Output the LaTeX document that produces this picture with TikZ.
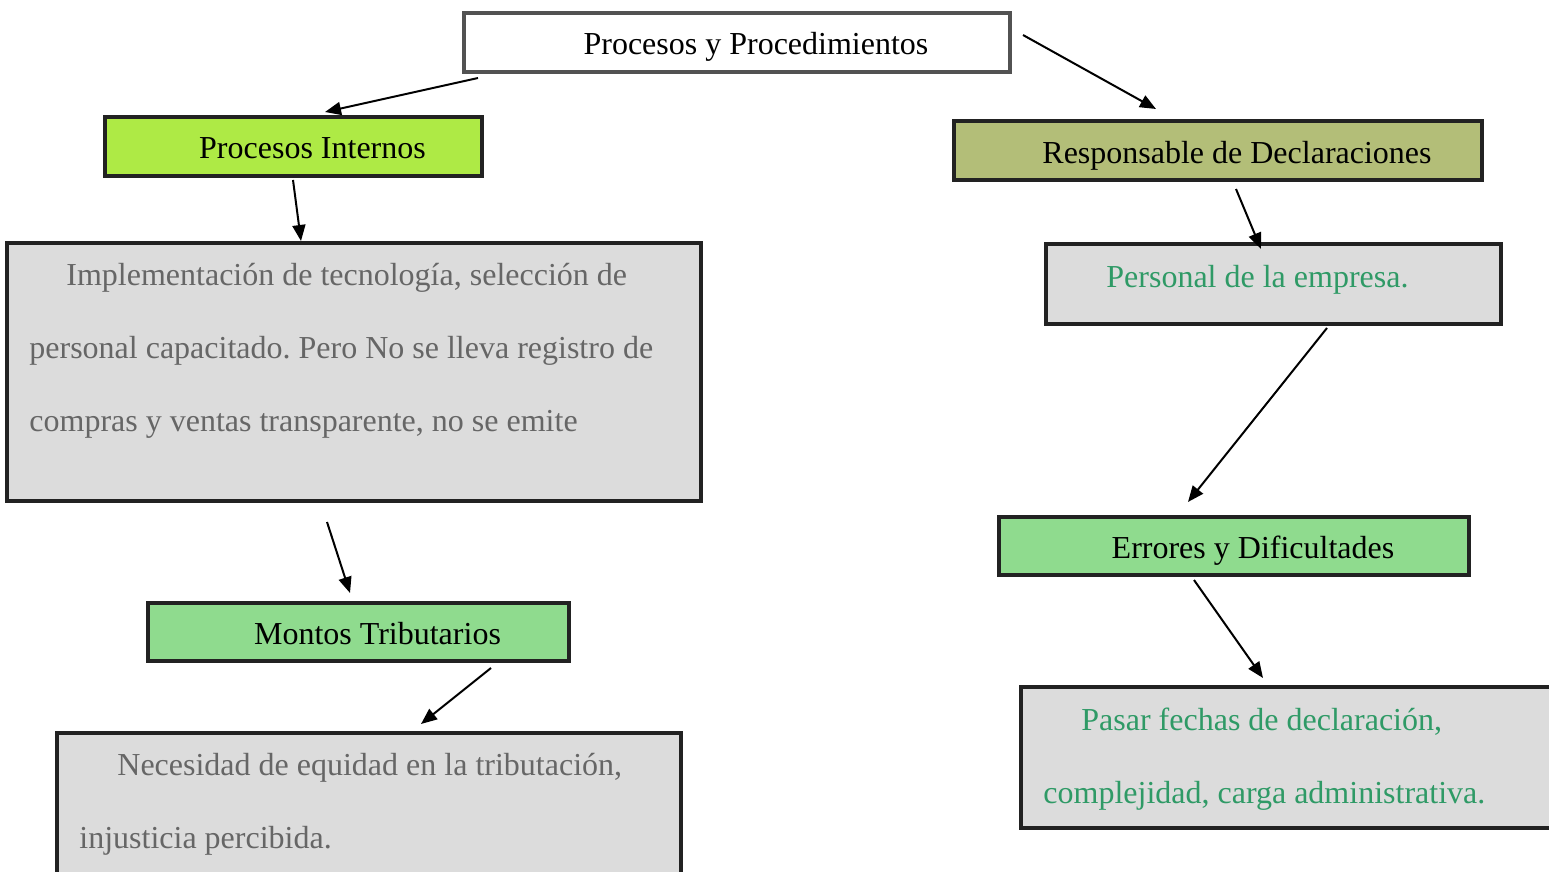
\documentclass[tikz,border=0pt]{standalone}
\usepackage{fontspec}
\setmainfont{Liberation Serif}
\usetikzlibrary{arrows.meta}
\frenchspacing

\definecolor{lima}{HTML}{AEEA45}
\definecolor{oliva}{HTML}{B3BE78}
\definecolor{verde}{HTML}{8FDB8E}
\definecolor{grisfondo}{HTML}{DCDCDC}
\definecolor{gristexto}{HTML}{666666}
\definecolor{verdetexto}{HTML}{2F9A66}
\definecolor{borde}{HTML}{222222}

\begin{document}
\begin{tikzpicture}[x=0.5pt, y=-0.5pt,
  every node/.style={font=\fontsize{16}{36.5}\selectfont, inner sep=0pt},
  caja/.style={draw=borde, line width=2pt, minimum height=29.5pt},
  titulo/.style={caja, text height=16pt, text depth=3.5pt},
  cajagris/.style={caja, fill=grisfondo},
  parrafo/.style={align=left, anchor=base west},
  flecha/.style={line width=1pt, -{Triangle[length=8pt,width=6.5pt]}}]
  \def\sangria{\hspace*{19pt}} % desplaza el texto del titulo

  \useasboundingbox (0,0) rectangle (1549,872);
  \clip (0,0) rectangle (1549,872);

  % cajas de titulo
  \node[titulo, draw=black!68, fill=white, minimum width=273pt] (top) at (737,42.5) {\sangria Procesos y Procedimientos};
  \node[titulo, fill=lima, minimum width=188.5pt] (internos) at (293.5,146.5) {\sangria Procesos Internos};
  \node[titulo, fill=oliva, minimum width=264pt] (respons) at (1218,150.5) {\sangria Responsable de Declaraciones};
  \node[titulo, fill=verde, minimum width=235pt, minimum height=29pt] (errores) at (1234,546) {\sangria Errores y Dificultades};
  \node[titulo, fill=verde, minimum width=210.5pt, minimum height=29pt] (montos) at (358.5,632) {\sangria Montos Tributarios};

  % cajas grises
  \node[cajagris, minimum width=347pt, minimum height=129pt] (impl) at (354,372) {};
  \node[cajagris, minimum width=227.5pt, minimum height=40pt] (personal) at (1273.5,284) {};
  \node[cajagris, minimum width=312pt, minimum height=82.5pt] (necesidad) at (369,815.5) {};
  \node[cajagris, minimum width=278.5pt, minimum height=70.5pt] (pasar) at (1299.5,757.5) {};

  % textos (base = ultima linea)
  \node[parrafo, text=gristexto] (impltxt) at (29,431)
    {\hspace*{18.5pt}Implementación de tecnología, selección de\\
     personal capacitado. Pero No se lleva registro de\\
     compras y ventas transparente, no se emite};
  \node[parrafo, text=verdetexto] (personaltxt) at (1106,287) {Personal de la empresa.};
  \node[parrafo, text=gristexto] (necesidadtxt) at (79,848)
    {\hspace*{19pt}Necesidad de equidad en la tributación,\\
     injusticia percibida.};
  \node[parrafo, text=verdetexto] (pasartxt) at (1043,803)
    {\hspace*{19pt}Pasar fechas de declaración,\\
     complejidad, carga administrativa.};

  % flechas
  \draw[flecha] ([shift={(16,4)}]top.south west) -- ([shift={(31.5,-3)}]internos.north);
  \draw[flecha] ([shift={(11,-7.5)}]top.east) -- ([shift={(-62,-10)}]respons.north);
  \draw[flecha] ([shift={(-0.5,2)}]internos.south) -- ([shift={(-53,0)}]impl.north);
  \draw[flecha] ([shift={(18,7)}]respons.south) -- ([shift={(-12.5,7)}]personal.north);
  \draw[flecha] ([shift={(53.5,2)}]personal.south) -- ([shift={(-46,-13)}]errores.north);
  \draw[flecha] ([shift={(-27,19)}]impl.south) -- ([shift={(-8.5,-8)}]montos.north);
  \draw[flecha] ([shift={(-40,3)}]errores.south) -- ([shift={(-36.5,-7)}]pasar.north);
  \draw[flecha] ([shift={(132.5,5)}]montos.south) -- ([shift={(52,-7)}]necesidad.north);
\end{tikzpicture}
\end{document}
